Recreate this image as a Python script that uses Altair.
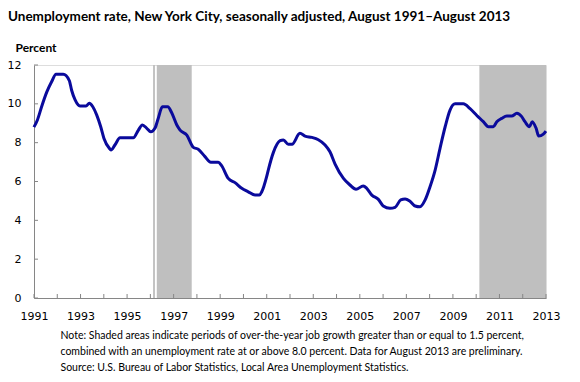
import altair as alt
import pandas as pd

# Decimal years (August 1991 = 1991 + 7/12)
years = [1991.58, 1991.73, 1991.91, 1992.13, 1992.34, 1992.53, 1992.84, 1993.10, 1993.20, 1993.35,
         1993.56, 1993.82, 1993.96, 1994.11, 1994.28, 1994.45, 1994.59, 1994.82, 1994.89, 1995.06,
         1995.28, 1995.85, 1996.07, 1996.24, 1996.43, 1996.60, 1996.78, 1996.92, 1997.10, 1997.33,
         1997.50, 1997.72, 1997.86, 1998.15, 1998.43, 1998.64, 1998.93, 1999.18, 1999.50, 1999.65,
         1999.93, 2000.22, 2000.51, 2000.79, 2001.08, 2001.27, 2001.37, 2001.58, 2001.65, 2001.87,
         2002.16, 2002.30, 2002.51, 2002.67, 2003.01, 2003.23, 2003.52, 2003.80, 2004.09, 2004.30,
         2004.52, 2004.88, 2005.16, 2005.42, 2005.73, 2005.88, 2006.10, 2006.38, 2006.59, 2006.88,
         2007.10, 2007.34, 2007.53, 2007.74, 2007.96, 2008.17, 2008.39, 2008.60, 2008.82, 2009.03,
         2009.25, 2009.46, 2009.68, 2010.03, 2010.32, 2010.61, 2010.89, 2011.11, 2011.32, 2011.47,
         2011.68, 2011.90, 2012.11, 2012.33, 2012.54, 2012.68, 2012.87, 2012.99, 2013.16, 2013.27,
         2013.47, 2013.58]
rates = [8.8, 9.17, 9.85, 10.6, 11.14, 11.52, 11.52, 11.2, 10.7, 10.2,
         9.89, 9.89, 10.03, 9.85, 9.42, 8.82, 8.22, 7.71, 7.62, 7.88,
         8.25, 8.25, 8.65, 8.91, 8.74, 8.56, 8.74, 9.25, 9.85, 9.85,
         9.54, 8.91, 8.65, 8.39, 7.76, 7.66, 7.28, 6.99, 6.99, 6.8,
         6.16, 5.94, 5.65, 5.47, 5.3, 5.3, 5.47, 6.25, 6.59, 7.5,
         8.1, 8.14, 7.92, 7.92, 8.48, 8.34, 8.27, 8.15, 7.88, 7.53,
         6.9, 6.16, 5.82, 5.6, 5.77, 5.65, 5.3, 5.08, 4.74, 4.62,
         4.67, 5.05, 5.1, 4.98, 4.74, 4.7, 5.05, 5.73, 6.59, 7.71,
         8.82, 9.68, 10.0, 10.0, 9.75, 9.4, 9.08, 8.82, 8.82, 9.08,
         9.25, 9.37, 9.37, 9.51, 9.34, 9.08, 8.82, 9.08, 8.74, 8.34,
         8.44, 8.6]

shade_start = [1996.70, 1996.86, 2010.72]
shade_end = [1996.78, 1998.36, 2013.5833]

START = 1991 + 7 / 12
tick_years = [START + k for k in range(23)]
y_ticks = [0, 2, 4, 6, 8, 10, 12]

notes = [
    "Note: Shaded areas indicate periods of over-the-year job growth greater than or equal to 1.5 percent,",
    "combined with an unemployment rate at or above 8.0 percent. Data for August 2013 are preliminary.",
    "Source: U.S. Bureau of Labor Statistics, Local Area Unemployment Statistics.",
]

W, H = 512, 233
AXIS_GRAY = "#868686"
FONT = "DejaVu Sans"

line_df = pd.DataFrame({"year": years, "rate": rates})
shade_df = pd.DataFrame({"start": shade_start, "end": shade_end})
xt_df = pd.DataFrame({"t": tick_years})
yt_df = pd.DataFrame({"v": y_ticks})

xscale = alt.Scale(domain=[START, START + 22], nice=False, zero=False)
yscale = alt.Scale(domain=[0, 12], nice=False)

label_expr = "(round(datum.value - 0.5833) % 2 == 1) ? format(round(datum.value - 0.5833), 'd') : ''"

XAXIS = alt.Axis(values=tick_years, labelExpr=label_expr, tickSize=0, labelPadding=12,
                 labelFlush=False, labelOverlap=False,
                 labelFont=FONT, labelFontSize=11, labelColor="#000000",
                 domainColor=AXIS_GRAY, grid=False,
                 title=notes, titleFont="Lato", titleFontSize=10.5, titleFontWeight="normal",
                 titleAnchor="start", titleAlign="left", titleBaseline="top",
                 titleX=26, titleY=32, titleLineHeight=16, titleColor="#000000")

YAXIS = alt.Axis(values=y_ticks, tickSize=0, labelPadding=13, labelFont=FONT,
                 labelFlush=False, labelOverlap=False,
                 labelFontSize=11, labelColor="#000000", domainColor=AXIS_GRAY, grid=False,
                 title="Percent", titleAngle=0, titleAlign="left", titleBaseline="alphabetic",
                 titleX=-19, titleY=-14, titleFont="Lato", titleFontSize=12,
                 titleFontWeight="bold", titleColor="#000000")

shade = alt.Chart(shade_df).mark_rect(color="#BFBFBF").encode(
    x=alt.X("start:Q", scale=xscale, axis=XAXIS),
    x2="end:Q",
    y=alt.value(0),
    y2=alt.value(H),
)

line = alt.Chart(line_df).mark_line(color="#0A0A9C", strokeWidth=3, interpolate="monotone").encode(
    x=alt.X("year:Q", scale=xscale, axis=XAXIS),
    y=alt.Y("rate:Q", scale=yscale, axis=YAXIS),
)

xticks = alt.Chart(xt_df).mark_rule(color=AXIS_GRAY, strokeWidth=1).encode(
    x=alt.X("t:Q", scale=xscale, axis=XAXIS),
    y=alt.value(H),
    y2=alt.value(H - 4),
)

yticks = alt.Chart(yt_df).mark_rule(color=AXIS_GRAY, strokeWidth=1).encode(
    y=alt.Y("v:Q", scale=yscale, axis=YAXIS),
    x=alt.value(0),
    x2=alt.value(4),
)

chart = alt.layer(shade, xticks, yticks, line).properties(
    width=W,
    height=H,
    padding={"left": 26, "top": 57, "right": 26, "bottom": 76},
    autosize=alt.AutoSizeParams(type="none"),
    title=alt.TitleParams(
        "Unemployment rate, New York City, seasonally adjusted, August 1991\u2013August 2013",
        anchor="start", frame="group", dx=-26, dy=-14, font="Lato", fontSize=13.5,
        fontWeight="bold", color="#000000",
    ),
).configure_view(stroke=None).configure(background="#FFFFFF")

chart.save("out.html", embed_options={"renderer": "svg", "actions": False})
